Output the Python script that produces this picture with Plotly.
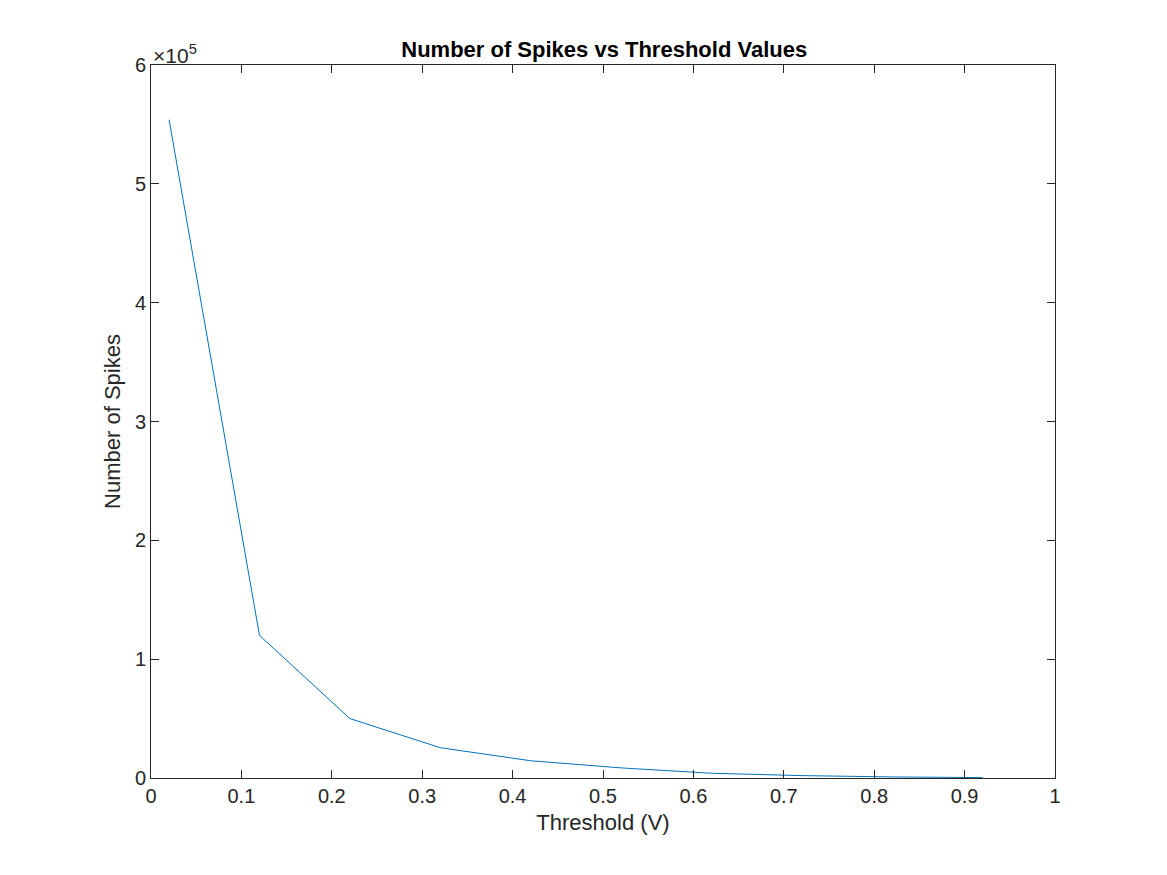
import plotly.graph_objects as go

# threshold values (V) and spike counts
thresholds = [0.02, 0.12, 0.22, 0.32, 0.42, 0.52, 0.62, 0.72, 0.82, 0.92]
spike_counts = [554000, 120000, 50000, 25500, 14500, 8500, 4000, 2000, 900, 300]

x_ticks = [0, 0.1, 0.2, 0.3, 0.4, 0.5, 0.6, 0.7, 0.8, 0.9, 1]
x_ticktext = ['0', '0.1', '0.2', '0.3', '0.4', '0.5', '0.6', '0.7', '0.8', '0.9', '1']
y_ticks = [0, 100000, 200000, 300000, 400000, 500000, 600000]
y_ticktext = ['0', '1', '2', '3', '4', '5', '6']

font = 'Liberation Sans, Arial, sans-serif'

fig = go.Figure()
fig.add_trace(go.Scatter(
    x=thresholds,
    y=spike_counts,
    mode='lines',
    line=dict(color='#0072BD', width=1),
    showlegend=False,
))

axis_style = dict(
    showline=True, linecolor='#262626', linewidth=1, mirror='ticks',
    ticks='inside', ticklen=8, tickcolor='#262626', tickwidth=1,
    showgrid=False, zeroline=False,
    tickfont=dict(family=font, size=20, color='#262626'),
)

fig.update_xaxes(
    range=[0, 1], tickvals=x_ticks, ticktext=x_ticktext,
    title=dict(text='Threshold (V)', font=dict(family=font, size=22, color='#262626'), standoff=8),
    **axis_style,
)
fig.update_yaxes(
    range=[0, 600000], tickvals=y_ticks, ticktext=y_ticktext,
    title=dict(text='Number of Spikes', font=dict(family=font, size=22, color='#262626'), standoff=8),
    **axis_style,
)

# exponent label in the top left corner, like MATLAB
fig.add_annotation(
    x=0, y=1, xref='paper', yref='paper', xanchor='left', yanchor='bottom',
    text='×10<sup>5</sup>', showarrow=False, yshift=-4,
    font=dict(family=font, size=21, color='#262626'),
)

fig.update_layout(
    width=1151, height=859,
    margin=dict(l=143, r=104, t=57, b=89),
    paper_bgcolor='white', plot_bgcolor='white',
    title=dict(
        text='<b>Number of Spikes vs Threshold Values</b>',
        x=0.518, xanchor='center', y=0.952, yanchor='middle',
        font=dict(family=font, size=22, color='black'),
    ),
)

fig.write_html('out.html')
